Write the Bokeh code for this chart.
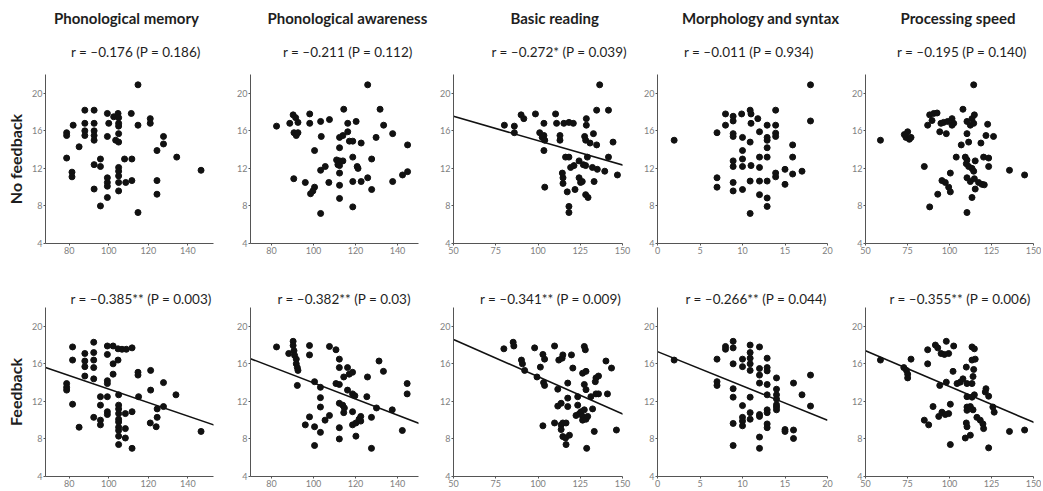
from bokeh.plotting import figure
from bokeh.layouts import row, column
from bokeh.models import Title, FixedTicker, Range1d
from bokeh.embed import file_html
from bokeh.resources import INLINE

FONT = "Lato"

column_titles = ["Phonological memory", "Phonological awareness", "Basic reading",
                 "Morphology and syntax", "Processing speed"]
row_labels = ["No feedback", "Feedback"]
r_texts_nf = ["r = \u20130.176 (P = 0.186)", "r = \u20130.211 (P = 0.112)",
              "r = \u20130.272* (P = 0.039)", "r = \u20130.011 (P = 0.934)",
              "r = \u20130.195 (P = 0.140)"]
r_texts_fb = ["r = \u20130.385** (P = 0.003)", "r = \u20130.382** (P = 0.03)",
              "r = \u20130.341** (P = 0.009)", "r = \u20130.266** (P = 0.044)",
              "r = \u20130.355** (P = 0.006)"]

x_limits = [(68, 153), (70, 150), (50, 150), (0, 20), (50, 150)]
x_tick_values = [[80, 100, 120, 140], [80, 100, 120, 140], [50, 75, 100, 125, 150],
                 [0, 5, 10, 15, 20], [50, 75, 100, 125, 150]]
y_limits = (4, 22)
y_tick_values = [4, 8, 12, 16, 20]

# ---- No feedback (top row) points ----
pm_nf = [(78.7,15.8),(78.7,15.5),(82.0,16.6),(85.0,14.3),(87.9,18.2),(92.6,18.2),(87.9,16.8),(92.6,16.8),
         (87.9,16.0),(87.9,15.5),(92.6,16.0),(92.6,15.5),(92.6,15.0),(99.3,17.85),(100.0,16.8),(99.3,15.4),
         (102.5,17.5),(104.7,17.85),(105.0,17.4),(105.0,16.8),(105.0,16.5),(105.0,15.7),(103.5,15.0),(105.0,14.8),
         (111.4,17.85),(114.8,20.9),(114.8,16.6),(121.0,17.3),(121.0,16.8),(127.7,15.4),(127.7,14.6),(124.4,13.9),
         (134.4,13.2),(146.7,11.8),(78.7,13.1),(81.4,11.6),(81.4,11.1),(92.6,12.4),(95.8,12.2),(95.8,13.0),
         (92.6,9.8),(95.8,8.0),(99.3,8.9),(99.3,11.0),(99.3,10.5),(99.3,10.1),(105.0,12.1),(105.0,11.7),
         (105.0,11.2),(105.0,10.5),(105.0,9.6),(108.0,13.0),(111.7,13.0),(108.6,10.5),(111.7,10.7),(114.8,7.3),
         (124.4,10.7),(124.4,9.25)]
pa_nf = [(125.8,20.9),(82.4,16.5),(88.7,16.8),(90.3,17.7),(91.5,17.4),(92.6,16.9),(90.7,15.8),(91.8,15.5),
         (92.6,15.8),(98.2,17.8),(98.2,16.8),(103.4,17.0),(107.6,17.2),(114.4,18.3),(116.3,16.8),(120.3,17.0),
         (131.7,18.3),(133.4,16.6),(137.7,15.7),(144.8,14.5),(129.8,15.3),(103.7,15.4),(112.4,15.3),(114.0,15.5),
         (116.3,15.9),(117.1,14.9),(118.7,14.9),(122.7,14.7),(112.4,14.2),(100.5,13.9),(118.7,13.2),(111.0,12.9),
         (112.4,12.8),(114.0,12.8),(111.6,12.4),(112.4,12.3),(127.7,13.0),(103.4,11.8),(105.6,12.2),(120.8,12.2),
         (121.2,12.0),(112.4,11.5),(90.6,10.9),(96.1,10.5),(100.5,10.0),(99.7,9.6),(98.6,9.3),(107.3,10.5),
         (112.4,10.2),(118.7,10.6),(122.7,10.6),(125.8,11.0),(127.7,9.75),(137.7,10.6),(142.4,11.3),(144.8,11.65),
         (112.4,8.8),(118.7,7.9),(103.4,7.2)]
br_nf = [(136.5,20.9),(134.7,18.2),(141.7,18.2),(80.1,16.6),(86.0,16.5),(86.0,15.8),(90.0,17.7),(91.6,17.3),
         (98.5,17.8),(103.5,16.8),(101.0,15.8),(102.5,15.3),(103.5,15.5),(104.0,15.0),(103.5,13.9),(110.4,17.8),
         (111.0,16.8),(113.0,15.5),(113.0,15.0),(115.3,16.8),(118.3,16.9),(120.9,16.8),(128.6,17.3),(128.6,16.6),
         (132.8,15.7),(127.6,15.4),(128.2,15.0),(130.8,14.7),(134.7,14.5),(144.4,14.8),(116.3,13.2),(118.3,13.2),
         (124.3,12.8),(129.2,13.2),(126.8,12.4),(128.2,12.3),(132.2,12.1),(135.1,11.9),(121.3,12.3),(119.3,12.1),
         (114.4,11.5),(114.8,11.0),(114.8,10.4),(117.3,9.5),(121.9,9.75),(124.3,11.0),(126.2,10.6),(125.2,10.5),
         (133.2,10.6),(139.5,11.7),(147.0,11.3),(141.7,13.2),(128.2,9.2),(129.6,8.9),(104.0,10.0),(118.3,7.95),
         (118.3,7.3)]
ms_nf = [(1.96,15.0),(7.0,15.8),(8.0,17.8),(8.0,16.6),(8.9,17.55),(8.9,17.05),(8.9,15.7),(8.9,15.4),
         (9.9,17.8),(10.9,18.2),(11.0,17.8),(11.0,16.8),(11.8,17.3),(12.9,16.6),(13.9,18.2),(13.9,16.6),
         (13.9,15.75),(13.9,15.4),(10.0,15.3),(10.9,14.8),(12.0,15.9),(12.9,15.3),(12.9,15.0),(12.9,14.2),
         (12.9,13.2),(10.0,13.9),(7.0,11.0),(7.0,10.0),(8.9,12.8),(8.9,12.2),(10.0,13.0),(10.0,12.2),
         (11.0,12.3),(12.0,13.2),(12.0,12.1),(13.9,11.5),(13.9,11.1),(15.0,11.9),(15.9,14.5),(15.9,13.2),
         (15.9,11.4),(17.0,11.7),(18.0,20.9),(18.0,17.05),(15.0,10.3),(8.9,10.5),(8.9,9.6),(10.0,9.75),
         (10.9,10.65),(12.0,10.65),(12.9,10.65),(12.0,9.2),(12.9,8.85),(12.9,7.95),(10.9,7.2)]
ps_nf = [(58.9,15.0),(75.1,15.9),(74.1,15.3),(76.1,15.1),(73.1,15.6),(77.1,15.3),(85.0,12.2),(87.0,16.6),
         (88.2,17.7),(90.6,17.85),(92.6,17.9),(89.6,17.1),(94.2,15.9),(98.1,15.7),(94.9,16.8),(96.5,16.9),
         (98.9,17.0),(101.5,17.3),(102.5,16.8),(101.5,16.6),(108.0,18.3),(110.4,17.0),(112.4,16.6),(113.4,17.3),
         (114.4,16.8),(114.8,17.7),(114.4,20.9),(110.4,15.7),(111.4,14.8),(107.0,14.5),(122.7,16.7),(121.7,15.5),
         (126.2,15.4),(118.7,14.7),(104.0,13.2),(109.4,13.2),(110.4,12.9),(110.0,12.5),(111.4,12.2),(113.4,12.0),
         (114.4,11.7),(115.3,12.8),(120.3,13.2),(123.3,13.1),(123.3,12.2),(135.7,11.8),(144.7,11.3),(100.5,11.5),
         (95.5,10.7),(97.5,10.5),(99.5,10.0),(100.5,9.5),(93.0,9.25),(88.2,7.9),(110.4,7.3),(110.4,11.0),
         (112.4,10.6),(114.8,10.9),(117.3,10.5),(119.3,10.3),(120.7,10.25),(115.3,9.8),(113.4,8.9)]

# ---- Feedback (bottom row) points ----
pm_fb = [(81.7,17.8),(81.7,16.4),(78.7,13.9),(78.7,13.5),(78.7,13.2),(81.7,11.7),(85.0,9.25),(87.9,17.1),
         (87.9,16.3),(87.9,15.7),(87.9,14.7),(92.4,18.3),(92.4,17.2),(92.4,16.4),(92.4,15.6),(92.4,14.4),
         (95.8,12.5),(95.8,11.6),(95.8,10.0),(95.8,9.5),(92.4,10.3),(99.3,17.9),(99.3,17.0),(102.2,17.9),
         (104.7,17.6),(106.7,17.55),(108.9,17.55),(111.8,17.7),(102.2,16.0),(104.7,16.4),(99.3,14.2),(99.3,13.9),
         (102.2,14.9),(99.3,12.5),(99.3,10.9),(99.3,10.6),(105.0,12.7),(105.0,11.6),(105.0,11.2),(105.0,10.7),
         (105.0,10.1),(105.0,9.8),(105.0,9.25),(105.0,8.9),(105.0,8.3),(105.0,7.4),(108.4,10.7),(108.4,9.1),
         (108.4,8.1),(111.8,10.9),(111.8,7.0),(114.8,15.1),(114.8,14.8),(115.1,12.5),(121.2,15.3),(121.2,13.2),
         (121.0,9.7),(124.0,9.3),(124.5,11.2),(124.5,10.3),(127.7,11.45),(127.7,14.0),(134.0,12.7),(146.7,8.8)]
pa_fb = [(82.4,17.8),(88.2,17.1),(90.3,18.4),(90.3,17.95),(90.7,17.4),(91.0,16.9),(91.8,16.5),(91.8,16.0),
         (92.3,15.6),(92.6,15.3),(92.3,13.7),(98.1,17.95),(98.1,16.95),(100.5,14.1),(98.1,10.35),(96.1,9.5),
         (100.5,9.3),(100.5,7.3),(103.3,13.5),(103.3,12.4),(103.3,11.4),(103.3,8.7),(105.5,10.0),(107.6,10.5),
         (107.6,17.85),(110.7,17.5),(112.3,16.5),(112.3,15.6),(110.7,13.9),(112.3,13.8),(116.2,15.6),(117.0,14.9),
         (118.6,15.1),(114.4,14.6),(116.2,13.2),(118.6,12.8),(119.7,12.6),(112.3,11.8),(113.9,11.6),(114.7,11.3),
         (114.4,10.8),(112.3,9.2),(112.3,8.0),(118.6,10.9),(118.6,9.5),(120.2,9.7),(121.7,10.1),(122.5,10.4),
         (122.5,9.9),(120.2,8.3),(125.7,14.6),(125.4,12.5),(127.6,10.3),(127.6,7.0),(130.0,11.3),(131.2,16.3),
         (133.3,15.2),(137.5,11.1),(142.3,8.9),(144.6,13.9),(144.6,12.8)]
br_fb = [(79.8,17.6),(85.3,18.3),(85.7,17.9),(90.2,16.4),(90.8,16.0),(92.1,15.3),(98.0,17.7),(101.4,15.65),
         (102.9,17.0),(103.9,16.5),(103.3,14.0),(103.9,13.7),(99.4,14.6),(102.9,9.4),(109.8,17.9),(112.3,16.4),
         (114.3,16.6),(114.7,16.95),(119.8,16.95),(120.6,15.55),(117.6,13.95),(111.7,13.3),(111.7,11.5),(113.7,11.8),
         (117.6,12.35),(117.6,11.45),(109.8,9.7),(113.7,9.5),(114.7,9.7),(116.6,9.7),(113.7,9.0),(114.7,8.25),
         (116.3,8.1),(118.6,8.4),(116.6,7.4),(123.5,12.5),(123.5,11.6),(122.5,10.5),(124.5,10.7),(125.5,10.9),
         (126.4,10.4),(127.4,11.1),(126.4,10.0),(128.4,10.1),(129.4,10.4),(127.4,17.85),(128.0,17.5),(126.4,15.0),
         (128.4,15.2),(127.4,13.8),(128.4,13.25),(131.3,12.5),(132.3,11.2),(133.9,14.1),(134.3,14.5),(135.8,14.7),
         (133.3,8.8),(128.8,7.0),(134.3,12.8),(135.8,12.8),(141.1,12.8),(140.2,16.3),(143.5,15.55),(146.4,8.95)]
ms_fb = [(1.96,16.4),(7.0,16.5),(7.0,14.1),(7.0,13.7),(8.0,17.85),(8.0,17.55),(8.9,18.4),(8.9,17.7),
         (8.9,16.0),(8.9,13.35),(8.9,12.45),(8.9,9.65),(8.9,7.3),(10.0,16.5),(10.0,15.7),(10.0,11.55),
         (10.0,10.3),(10.0,9.9),(10.0,9.4),(10.9,18.0),(10.9,17.2),(10.9,16.6),(10.9,16.0),(10.9,15.3),
         (10.9,12.45),(10.9,10.8),(10.9,10.1),(12.0,17.8),(12.0,15.5),(12.0,14.8),(12.0,13.95),(12.0,10.6),
         (12.0,10.4),(12.0,8.2),(12.0,7.0),(12.9,16.6),(12.9,15.6),(12.9,15.25),(12.9,13.8),(12.9,12.7),
         (12.9,11.1),(12.9,10.8),(12.9,9.6),(12.9,9.2),(14.0,14.5),(14.0,13.3),(14.0,12.7),(14.0,12.25),
         (14.0,11.65),(14.0,11.4),(14.0,11.1),(15.0,9.0),(15.0,8.8),(16.0,13.95),(16.0,8.95),(16.0,8.05),
         (17.0,12.7),(18.0,14.8),(18.0,11.5)]
ps_fb = [(58.9,16.4),(72.8,15.6),(74.4,15.3),(75.1,14.9),(75.1,14.5),(77.1,16.5),(85.0,10.0),(87.6,9.5),
         (87.0,17.5),(87.0,16.0),(91.6,18.0),(93.0,17.7),(95.0,17.1),(97.0,17.0),(99.5,17.1),(98.1,18.4),
         (102.5,17.9),(94.2,13.7),(98.1,14.05),(90.2,11.45),(93.6,10.4),(95.5,10.85),(97.5,10.6),(99.5,10.7),
         (100.5,11.7),(102.1,15.2),(104.5,13.9),(106.4,14.05),(108.0,14.4),(100.5,7.4),(110.0,15.65),(110.4,13.9),
         (110.4,12.5),(110.4,11.4),(110.4,11.05),(110.0,9.7),(110.4,9.3),(109.4,8.1),(112.4,8.4),(113.4,17.8),
         (114.8,17.6),(113.4,16.4),(115.3,16.5),(114.4,15.4),(114.0,14.65),(113.4,13.9),(114.8,12.7),(113.4,12.45),
         (112.4,11.45),(114.0,11.1),(116.3,10.3),(118.3,10.0),(119.9,9.6),(120.3,9.1),(121.7,13.35),(123.3,12.55),
         (121.3,13.0),(125.8,11.4),(126.6,10.85),(123.3,7.05),(135.7,8.8),(144.7,8.95)]

# regression lines (end points)
nf_fit_x = [None, None, [50, 153], None, None]
nf_fit_y = [None, None, [17.55, 12.2], None, None]
fb_fit_x = [[68, 155], [70, 151], [50, 151], [0, 20], [50, 151]]
fb_fit_y = [[15.6, 9.36], [16.55, 9.6], [18.6, 10.6], [17.3, 10.0], [17.4, 9.7]]

rows_points = [[pm_nf, pa_nf, br_nf, ms_nf, ps_nf], [pm_fb, pa_fb, br_fb, ms_fb, ps_fb]]
rows_texts = [r_texts_nf, r_texts_fb]
rows_fit_x = [nf_fit_x, fb_fit_x]
rows_fit_y = [nf_fit_y, fb_fit_y]

# ---- layout (pixels; the page has no margin) ----
FRAME_H = 169
FIG_W = [225, 208, 204, 207, 197]
LEFT_B = [45, 25, 20, 20, 21]
RIGHT_B = [12, 15, 15, 17, 8]
TOP_B = [74, 50]
BOTTOM_B = [14, 14]
# estimated rendered text widths (px) and wanted shift of the text centre from the frame centre
TITLE_W = [145, 160, 89, 155, 122]
TITLE_SHIFT = [-3, 13, 17, 17, 12]
RTEXT_W = [[129, 129, 135, 129, 129], [142, 134, 142, 142, 142]]
RTEXT_SHIFT = [[6, 13, 21, 6, 12], [12, 10, 13, 14, 11]]
RTEXT_STANDOFF = [30, 1]
AX_COL = "#555555"
INK = "#111111"
TXT = "#1e1e1e"


def make_panel(r, c):
    x0, x1 = x_limits[c]
    y0, y1 = y_limits
    frame_w = FIG_W[c] - LEFT_B[c] - RIGHT_B[c]
    p = figure(width=FIG_W[c], height=TOP_B[r] + FRAME_H + BOTTOM_B[r],
               x_range=Range1d(x0, x1), y_range=Range1d(y0, y1),
               output_backend="svg", toolbar_location=None, title=None,
               min_border_left=LEFT_B[c], min_border_right=RIGHT_B[c],
               min_border_top=TOP_B[r], min_border_bottom=BOTTOM_B[r])
    p.background_fill_color = "white"
    p.border_fill_color = "white"
    p.outline_line_color = None
    p.xgrid.visible = False
    p.ygrid.visible = False
    p.xaxis.ticker = FixedTicker(ticks=x_tick_values[c])
    p.yaxis.ticker = FixedTicker(ticks=y_tick_values)
    for ax in (p.xaxis[0], p.yaxis[0]):
        ax.axis_line_color = AX_COL
        ax.axis_line_width = 1
        ax.major_tick_line_color = AX_COL
        ax.major_tick_out = 2
        ax.major_tick_in = 0
        ax.minor_tick_line_color = None
        ax.major_label_text_font = FONT
        ax.major_label_text_font_size = "9px"
        ax.major_label_text_color = "#808080"
        ax.major_label_standoff = 1
    if c == 0:
        p.yaxis.axis_label = row_labels[r]
        p.yaxis.axis_label_text_font = FONT
        p.yaxis.axis_label_text_font_size = "16px"
        p.yaxis.axis_label_text_font_style = "bold"
        p.yaxis.axis_label_text_color = TXT
        p.yaxis.axis_label_standoff = 4

    pts = rows_points[r][c]
    xs = [q[0] for q in pts]
    ys = [q[1] for q in pts]
    fx, fy = rows_fit_x[r][c], rows_fit_y[r][c]
    if fx is not None:
        p.line(fx, fy, line_color=INK, line_width=1.6)
    p.scatter(xs, ys, size=6, fill_color=INK, line_color=INK, line_width=1)

    r_off = (frame_w - RTEXT_W[r][c]) / 2 + RTEXT_SHIFT[r][c]
    p.add_layout(Title(text=rows_texts[r][c], align="left", offset=r_off,
                       text_font=FONT, text_font_size="13.5px", text_font_style="normal",
                       text_color=TXT, standoff=RTEXT_STANDOFF[r]), "above")
    if r == 0:
        t_off = (frame_w - TITLE_W[c]) / 2 + TITLE_SHIFT[c]
        p.add_layout(Title(text=column_titles[c], align="left", offset=t_off,
                           text_font=FONT, text_font_size="15px", text_font_style="bold",
                           text_color=TXT, standoff=0), "above")
    return p


grid = column(*[row(*[make_panel(r, c) for c in range(5)]) for r in range(2)])

with open("out.html", "w") as f:
    f.write(file_html(grid, INLINE))
